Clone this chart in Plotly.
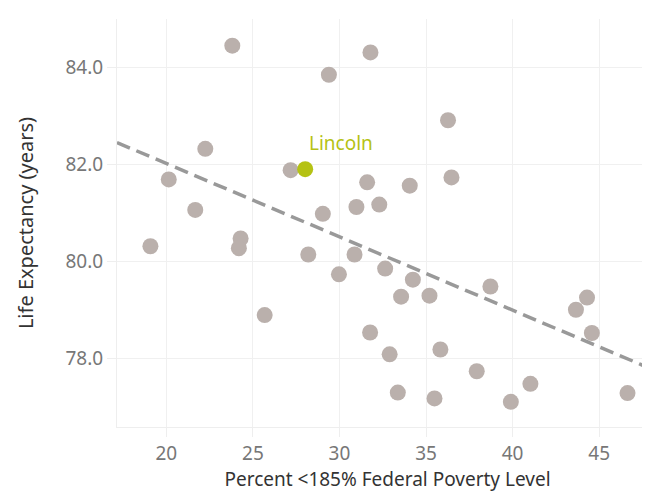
import plotly.graph_objects as go

# Data
poverty_pct = [23.81, 31.79, 29.39, 22.25, 36.27, 27.18, 20.14, 31.6, 36.47, 34.06,
               21.67, 29.04, 30.98, 32.3, 19.08, 24.29, 24.19, 28.2, 30.87, 29.97,
               32.64, 34.24, 33.56, 35.2, 38.72, 44.3, 43.66, 44.58, 25.68, 31.77,
               32.9, 35.83, 37.93, 33.37, 35.49, 39.9, 41.03, 46.64]
life_exp = [84.45, 84.31, 83.85, 82.32, 82.91, 81.88, 81.69, 81.63, 81.73, 81.56,
            81.06, 80.98, 81.12, 81.17, 80.31, 80.47, 80.27, 80.14, 80.14, 79.73,
            79.85, 79.62, 79.27, 79.29, 79.48, 79.25, 79.0, 78.52, 78.89, 78.53,
            78.08, 78.18, 77.73, 77.29, 77.17, 77.1, 77.47, 77.28]
highlight_name = "Lincoln"
highlight_x = [28.02]
highlight_y = [81.9]

trend_x = [17.15, 48.4]
trend_y = [82.45, 77.72]

x_ticks = [20, 25, 30, 35, 40, 45]
y_ticks = [78, 80, 82, 84]

FONT = "Noto Sans"
HL_COLOR = "#b5c214"

fig = go.Figure()
fig.add_trace(go.Scatter(
    x=poverty_pct, y=life_exp, mode="markers",
    marker=dict(size=16, color="#bab0ac", line=dict(width=0)),
    showlegend=False, hoverinfo="skip"))
fig.add_trace(go.Scatter(
    x=trend_x, y=trend_y, mode="lines",
    line=dict(color="#999999", width=3.5, dash="14px,7px"),
    showlegend=False, hoverinfo="skip"))
fig.add_trace(go.Scatter(
    x=highlight_x, y=highlight_y, mode="markers",
    marker=dict(size=16, color=HL_COLOR, line=dict(width=0)),
    showlegend=False, hoverinfo="skip"))
fig.add_annotation(
    x=highlight_x[0], y=highlight_y[0], text=highlight_name, showarrow=False,
    xanchor="left", yanchor="middle", xshift=2, yshift=26,
    font=dict(family=FONT, size=19, color=HL_COLOR))

fig.update_layout(
    width=650, height=491,
    margin=dict(l=109, r=0, t=11, b=72),
    paper_bgcolor="white", plot_bgcolor="white",
    font=dict(family=FONT),
)
fig.update_xaxes(
    range=[17.15, 48.4], tickvals=x_ticks, ticktext=[str(v) for v in x_ticks],
    showgrid=True, gridcolor="#f0f0f0", gridwidth=1, zeroline=False,
    showline=True, linecolor="#eeeeee", linewidth=1,
    ticks="outside", ticklen=9, tickcolor="#eeeeee",
    ticklabelstandoff=0,
    tickfont=dict(family=FONT, size=19, color="#777777"),
    title=dict(text="Percent <185% Federal Poverty Level", standoff=5,
               font=dict(family=FONT, size=19, color="#333333")))
fig.update_yaxes(
    range=[76.58, 85.0], tickvals=y_ticks, ticktext=[f"{v:.1f}" for v in y_ticks],
    showgrid=True, gridcolor="#f0f0f0", gridwidth=1, zeroline=False,
    showline=True, linecolor="#eeeeee", linewidth=1,
    ticks="outside", ticklen=9, tickcolor="#eeeeee",
    tickfont=dict(family=FONT, size=19, color="#777777"),
    title=dict(text="Life Expectancy (years)", standoff=26,
               font=dict(family=FONT, size=20, color="#333333")))

fig.write_html("out.html")
